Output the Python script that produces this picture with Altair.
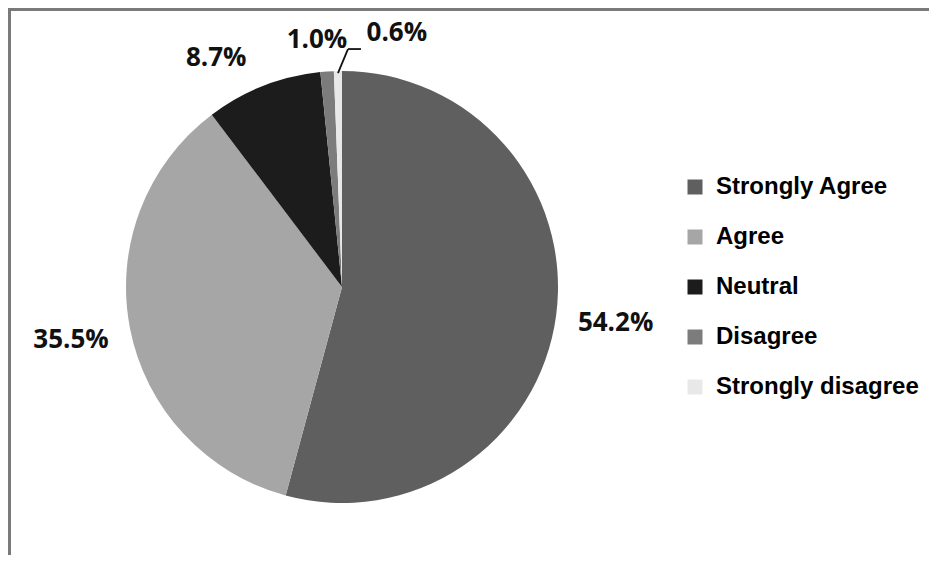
import altair as alt
import pandas as pd

categories = ["Strongly Agree", "Agree", "Neutral", "Disagree", "Strongly disagree"]
values = [54.2, 35.5, 8.7, 1.0, 0.6]
order = [1, 2, 3, 4, 5]
colors = ["#5f5f5f", "#a6a6a6", "#1c1c1c", "#7c7c7c", "#e8e8e8"]

df = pd.DataFrame({"category": categories, "value": values, "order": order})

CX, CY, R, LR = 329, 274, 216, 276
PCT_FONT = "Open Sans"

base = (
    alt.Chart(df)
    .transform_window(cum="sum(value)", sort=[alt.SortField("order")], frame=[None, 0])
    .transform_joinaggregate(total="sum(value)")
    .transform_calculate(
        mid="(datum.cum - datum.value / 2) / datum.total * 2 * PI",
        label="format(datum.value, '.1f') + '%'",
    )
    .transform_calculate(
        lx=f"{CX} + {LR} * sin(datum.mid)",
        ly=f"{CY} - {LR} * cos(datum.mid)",
        sx=f"{CX} + {R - 2} * sin(datum.mid)",
        sy=f"{CY} - {R - 2} * cos(datum.mid)",
    )
)

pie = alt.Chart(df).mark_arc(outerRadius=R).encode(
    theta=alt.Theta("value:Q", stack=True),
    order=alt.Order("order:Q"),
    color=alt.Color(
        "category:N",
        scale=alt.Scale(domain=categories, range=colors),
        legend=alt.Legend(
            title=None,
            orient="none",
            legendX=670,
            legendY=162,
            symbolType="square",
            symbolSize=225,
            symbolStrokeWidth=0,
            labelFont="Liberation Sans",
            labelFontWeight="bold",
            labelFontSize=24,
            labelColor="black",
            rowPadding=26,
            labelOffset=9,
            labelLimit=400,
        ),
    ),
    x=alt.value(CX),
    y=alt.value(CY),
)


def label_layer(cats, dx=0, dy=0):
    flt = alt.FieldOneOfPredicate(field="category", oneOf=cats)
    return (
        base.transform_filter(flt)
        .mark_text(
            font=PCT_FONT,
            fontWeight="bold",
            fontSize=26,
            color="#111",
            align="center",
            baseline="middle",
            dx=dx,
            dy=dy,
        )
        .encode(
            x=alt.X("lx:Q", scale=None),
            y=alt.Y("ly:Q", scale=None),
            text="label:N",
        )
    )


labels_main = label_layer(["Strongly Agree", "Agree"])
label_neutral = label_layer(["Neutral"], dx=-25, dy=28)
label_dis = label_layer(["Disagree"], dx=-6, dy=28)
label_sdis = label_layer(["Strongly disagree"], dx=60, dy=22)

leader_base = base.transform_filter(
    alt.FieldEqualPredicate(field="category", equal="Strongly disagree")
).transform_calculate(
    ex="datum.sx + 10", ey="datum.sy - 24", hx="datum.sx + 23"
)
leader1 = leader_base.mark_rule(color="#111", strokeWidth=1.8).encode(
    x=alt.X("sx:Q", scale=None),
    y=alt.Y("sy:Q", scale=None),
    x2="ex:Q",
    y2="ey:Q",
)
leader2 = leader_base.mark_rule(color="#111", strokeWidth=1.8).encode(
    x=alt.X("ex:Q", scale=None),
    y=alt.Y("ey:Q", scale=None),
    x2="hx:Q",
)

frame_data = alt.Data(values=[{"k": 1}])
top_border = alt.Chart(frame_data).mark_rule(color="#7a7a7a", strokeWidth=3).encode(
    x=alt.value(-5), x2=alt.value(930), y=alt.value(-3.5)
)
left_border = alt.Chart(frame_data).mark_rule(color="#7a7a7a", strokeWidth=3).encode(
    x=alt.value(-3.5), y=alt.value(-5), y2=alt.value(560)
)

chart = (
    alt.layer(
        top_border,
        left_border,
        pie,
        labels_main,
        label_neutral,
        label_dis,
        label_sdis,
        leader1,
        leader2,
    )
    .properties(
        width=916,
        height=542,
        padding={"left": 5, "top": 5, "right": 0, "bottom": 0},
        autosize=alt.AutoSizeParams(type="none"),
        background="white",
    )
    .configure_view(stroke=None)
)

chart.save("out.html", embed_options={"renderer": "svg", "actions": False})
